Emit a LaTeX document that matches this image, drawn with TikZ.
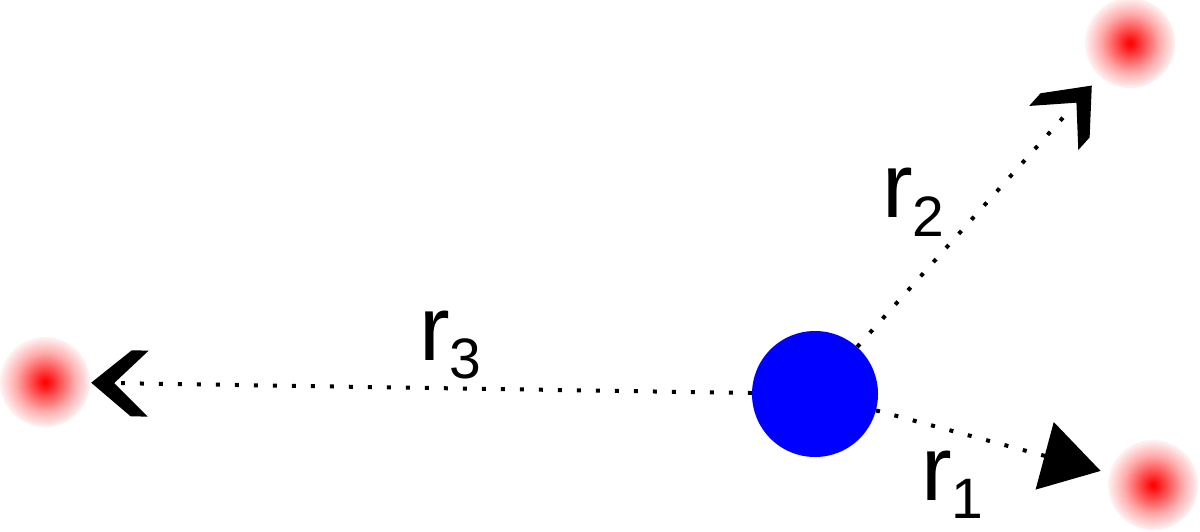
\documentclass[tikz,border=0pt]{standalone}
\usepackage{fontspec}
\setmainfont{Liberation Sans}
\usetikzlibrary{arrows.meta}
\pgfdeclareradialshading{glowshade}{\pgfpoint{0bp}{0bp}}{color(0bp)=(red); color(2bp)=(red!94!white); color(8bp)=(red!68!white); color(16bp)=(red!34!white); color(25bp)=(red!5!white); color(50bp)=(white)}
\pgfdeclarearrow{
  name = Chev,
  setup code = {
    \pgfarrowssettipend{0pt}
    \pgfarrowssetlineend{-30pt}
    \pgfarrowssetbackend{-57pt}
    \pgfarrowssetvisualbackend{-23pt}
    \pgfarrowshullpoint{0pt}{0pt}
    \pgfarrowsupperhullpoint{-57pt}{33pt}
  },
  drawing code = {
    \pgfpathmoveto{\pgfqpoint{0pt}{0pt}}
    \pgfpathlineto{\pgfqpoint{-40pt}{33pt}}
    \pgfpathlineto{\pgfqpoint{-57pt}{33pt}}
    \pgfpathlineto{\pgfqpoint{-23pt}{0pt}}
    \pgfpathlineto{\pgfqpoint{-57pt}{-33pt}}
    \pgfpathlineto{\pgfqpoint{-40pt}{-33pt}}
    \pgfpathclose
    \pgfusepathqfill
  }
}
\begin{document}
\begin{tikzpicture}[x=1pt,y=-1pt,
  glow/.style={circle,minimum size=90pt,inner sep=0pt,shading=glowshade},
  body/.style={circle,fill=blue,minimum size=126pt,inner sep=0pt},
  dist/.style={line width=4pt,dash pattern=on 4pt off 15pt},
  rlab/.style={font=\fontsize{92}{100}\selectfont,anchor=base west,inner sep=0pt}]
\useasboundingbox (0,0) rectangle (1200,532);
\node[body] (b) at (815,394) {};
\node[glow] (g2) at (1130,43) {};
\node[glow] (g3) at (45,382) {};
\node[glow] (g1) at (1153,485) {};
\draw[dist,-{Chev},shorten >=12pt] (b) -- (g2);
\draw[dist,-{Chev},shorten >=1pt] (b) -- (g3);
\draw[dist,-{Triangle[length=58pt,width=69pt]},shorten >=9pt] (b) -- (g1);
\node[rlab] (l2) at (882,218) {r\raisebox{-18pt}{\fontsize{57}{60}\selectfont 2}};
\node[rlab] (l3) at (419,360) {r\raisebox{-18pt}{\fontsize{57}{60}\selectfont 3}};
\node[rlab] (l1) at (921,500) {r\raisebox{-18pt}{\fontsize{57}{60}\selectfont 1}};
\end{tikzpicture}
\end{document}
